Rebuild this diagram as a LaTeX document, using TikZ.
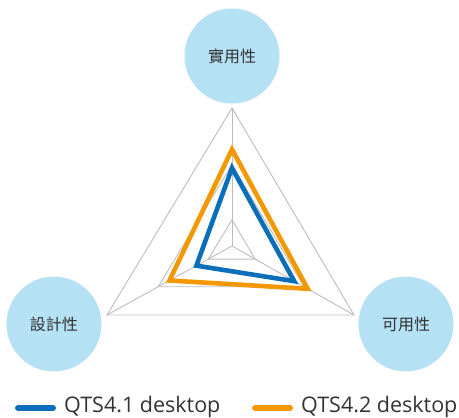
\documentclass[tikz,border=0pt]{standalone}
\usepackage{fontspec}
\setmainfont{Open Sans}
\newfontfamily\cjk{Noto Sans CJK TC}
\usetikzlibrary{calc}
\definecolor{gridgray}{HTML}{BDBDBD}
\definecolor{qblue}{HTML}{0A6EB8}
\definecolor{qorange}{HTML}{F39800}
\definecolor{bubble}{HTML}{B5E1F5}
\definecolor{txt}{HTML}{333333}
\begin{document}
\begin{tikzpicture}[x=1pt,y=-1pt,
  bubblenode/.style={circle,fill=bubble,minimum size=95pt,inner sep=0pt,text=txt,font=\cjk\fontsize{16}{19}\selectfont},
  gridline/.style={draw=gridgray,line width=0.9pt},
  series/.style={line width=4.6pt,line join=miter},
  legbar/.style={line width=6pt,line cap=round},
  legtext/.style={anchor=west,inner sep=0pt,text=txt,font=\fontsize{21.5}{24}\selectfont}]
\useasboundingbox (0,0) rectangle (459,418);
% axes
\coordinate (O) at (232,246);
\coordinate (A) at (232,108);
\coordinate (B) at (107,315);
\coordinate (C) at (354,315);
% bubbles
\node[bubblenode] (top) at (232,56) {實用性};
\node[bubblenode] (left) at (54,324) {設計性};
\node[bubblenode] (right) at (406,324) {可用性};
% grid
\foreach \t in {0.19,0.59,1}{
  \draw[gridline] ($(O)!\t!(A)$) -- ($(O)!\t!(B)$) -- ($(O)!\t!(C)$) -- cycle;
}
\draw[gridline] (O) -- (A);
\draw[gridline] (O) -- (B);
\draw[gridline] (O) -- (C);
% series
\draw[series,qorange] ($(O)!0.70!(A)$) -- ($(O)!0.50!(B)$) -- ($(O)!0.62!(C)$) -- cycle;
\draw[series,qblue] ($(O)!0.565!(A)$) -- ($(O)!0.285!(B)$) -- ($(O)!0.51!(C)$) -- cycle;
% legend
\coordinate (l1a) at (18,408);
\coordinate (l1b) at (53,408);
\draw[legbar,qblue] (l1a) -- (l1b);
\node[legtext] (lt1) at (64,407) {QTS4.1 desktop};
\coordinate (l2a) at (255,408);
\coordinate (l2b) at (290,408);
\draw[legbar,qorange] (l2a) -- (l2b);
\node[legtext] (lt2) at (301,407) {QTS4.2 desktop};
\end{tikzpicture}
\end{document}
